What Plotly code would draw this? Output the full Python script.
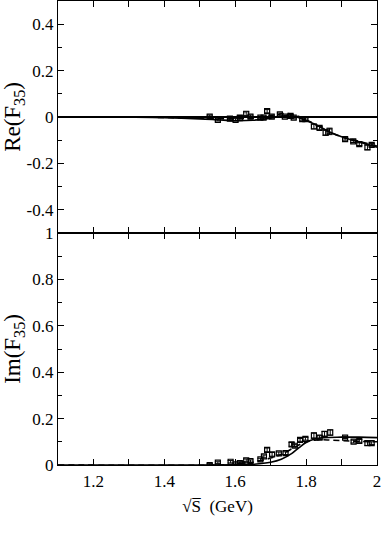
import plotly.graph_objects as go
from plotly.subplots import make_subplots

# ---- data: Re(F35) points ----
re_x = [1.528, 1.551, 1.585, 1.601, 1.613, 1.631, 1.643, 1.671, 1.680, 1.690, 1.703, 1.726,
        1.740, 1.756, 1.765, 1.789, 1.798, 1.822, 1.838, 1.855, 1.866, 1.910, 1.933, 1.950,
        1.973, 1.985]
re_y = [0.002, -0.012, -0.007, -0.012, -0.004, 0.014, 0.002, -0.003, -0.003, 0.025, 0.002, 0.011,
        0.002, 0.005, -0.003, -0.009, -0.009, -0.041, -0.047, -0.067, -0.062, -0.095, -0.105, -0.117,
        -0.131, -0.120]
re_err = [0.006, 0.005, 0.006, 0.005, 0.012, 0.008, 0.006, 0.005, 0.006, 0.007, 0.006, 0.006,
          0.005, 0.006, 0.005, 0.005, 0.005, 0.010, 0.006, 0.012, 0.014, 0.005, 0.005, 0.006,
          0.010, 0.006]

# ---- data: Im(F35) points ----
im_x = [1.528, 1.551, 1.587, 1.601, 1.613, 1.620, 1.631, 1.643, 1.671, 1.681, 1.690, 1.704,
        1.723, 1.742, 1.759, 1.768, 1.783, 1.798, 1.822, 1.838, 1.852, 1.868, 1.910, 1.934,
        1.950, 1.973, 1.985]
im_y = [0.000, 0.010, 0.014, 0.003, 0.008, 0.003, 0.020, 0.017, 0.024, 0.037, 0.065, 0.046,
        0.050, 0.051, 0.089, 0.083, 0.108, 0.113, 0.127, 0.118, 0.134, 0.140, 0.118, 0.101,
        0.104, 0.094, 0.094]
im_err = [0.006, 0.004, 0.005, 0.005, 0.005, 0.005, 0.006, 0.005, 0.005, 0.006, 0.008, 0.008,
          0.006, 0.006, 0.008, 0.006, 0.006, 0.006, 0.012, 0.008, 0.010, 0.012, 0.004, 0.006,
          0.006, 0.010, 0.006]

# ---- model curves ----
re_solid_x = [1.10, 1.20, 1.30, 1.40, 1.50, 1.55, 1.60, 1.65, 1.70, 1.73, 1.76, 1.78, 1.80,
              1.83, 1.86, 1.90, 1.95, 2.00]
re_solid_y = [0.0, 0.0, -0.001, -0.003, -0.008, -0.012, -0.016, -0.014, -0.005, 0.003, 0.004,
              -0.003, -0.015, -0.035, -0.060, -0.085, -0.108, -0.130]
re_dash_x = [1.10, 1.30, 1.40, 1.50, 1.60, 1.65, 1.70, 1.74, 1.76, 1.78, 1.80, 1.83, 1.86,
             1.90, 1.95, 2.00]
re_dash_y = [0.0, 0.0, -0.002, -0.005, -0.008, -0.005, 0.005, 0.015, 0.012, 0.002, -0.012,
             -0.035, -0.060, -0.085, -0.105, -0.125]

im_solid_x = [1.10, 1.50, 1.60, 1.65, 1.70, 1.73, 1.76, 1.78, 1.80, 1.82, 1.85, 1.90, 1.95, 2.00]
im_solid_y = [0.0, 0.0, 0.001, 0.003, 0.012, 0.025, 0.050, 0.075, 0.097, 0.110, 0.118, 0.120,
              0.120, 0.118]
im_dash_x = [1.10, 1.55, 1.60, 1.65, 1.70, 1.73, 1.76, 1.80, 1.83, 1.86, 1.90, 1.95, 2.00]
im_dash_y = [0.0, 0.0, 0.004, 0.012, 0.030, 0.045, 0.070, 0.100, 0.108, 0.108, 0.105, 0.102,
             0.100]

x_range = [1.1, 2.0]

FONT = "Liberation Serif, Times New Roman, serif"
fig = make_subplots(rows=2, cols=1, shared_xaxes=False, vertical_spacing=0)

def add_panel(row, px, py, perr, sx, sy, dx, dy):
    fig.add_trace(go.Scatter(x=sx, y=sy, mode="lines", line=dict(color="black", width=1.6, shape="spline"),
                             showlegend=False), row=row, col=1)
    fig.add_trace(go.Scatter(x=dx, y=dy, mode="lines",
                             line=dict(color="black", width=1.6, dash="6px,4px", shape="spline"),
                             showlegend=False), row=row, col=1)
    fig.add_trace(go.Scatter(x=px, y=py, mode="markers",
                             marker=dict(symbol="square-open", size=5, color="black", line=dict(width=1.2)),
                             error_y=dict(type="data", array=perr, color="black", thickness=1, width=3),
                             showlegend=False), row=row, col=1)

add_panel(1, re_x, re_y, re_err, re_solid_x, re_solid_y, re_dash_x, re_dash_y)
add_panel(2, im_x, im_y, im_err, im_solid_x, im_solid_y, im_dash_x, im_dash_y)

xcommon = dict(range=x_range, showgrid=False, zeroline=False, showline=True, linecolor="black",
               linewidth=1.3, mirror="ticks", ticks="inside", ticklen=6, tickcolor="black",
               dtick=0.2, tick0=1.2, automargin=False,
               minor=dict(dtick=0.1, tick0=1.1, ticks="inside", ticklen=6, tickcolor="black"),
               tickfont=dict(family=FONT, size=17, color="black"))
ycommon = dict(showgrid=False, showline=True, linecolor="black", linewidth=1.3, mirror="ticks",
               ticks="inside", ticklen=6, tickcolor="black", automargin=False,
               minor=dict(dtick=0.1, ticks="inside", ticklen=4, tickcolor="black"),
               tickfont=dict(family=FONT, size=17, color="black"))

fig.update_xaxes(**xcommon, showticklabels=False, row=1, col=1)
fig.update_xaxes(**xcommon, row=2, col=1,
                 title=dict(text="√S̅  (GeV)", font=dict(family=FONT, size=17, color="black"),
                            standoff=10))
fig.update_yaxes(**ycommon, row=1, col=1, range=[-0.5, 0.5], tickvals=[-0.4, -0.2, 0, 0.2, 0.4],
                 ticktext=["-0.4", "-0.2", "0", "0.2", "0.4"],
                 zeroline=True, zerolinecolor="black", zerolinewidth=1.5,
                 title=dict(text="Re(F<sub>35</sub>)", font=dict(family=FONT, size=23, color="black"),
                            standoff=10))
fig.update_yaxes(**ycommon, row=2, col=1, range=[0, 1], tickvals=[0, 0.2, 0.4, 0.6, 0.8, 1],
                 ticktext=["0", "0.2", "0.4", "0.6", "0.8", "1"], zeroline=False,
                 title=dict(text="Im(F<sub>35</sub>)", font=dict(family=FONT, size=23, color="black"),
                            standoff=10))

fig.update_layout(width=382, height=533, margin=dict(l=58, r=5, t=1, b=68),
                  plot_bgcolor="white", paper_bgcolor="white", showlegend=False)

fig.write_html("out.html", config={"displayModeBar": False},
               post_script="document.body.style.margin='0';")
